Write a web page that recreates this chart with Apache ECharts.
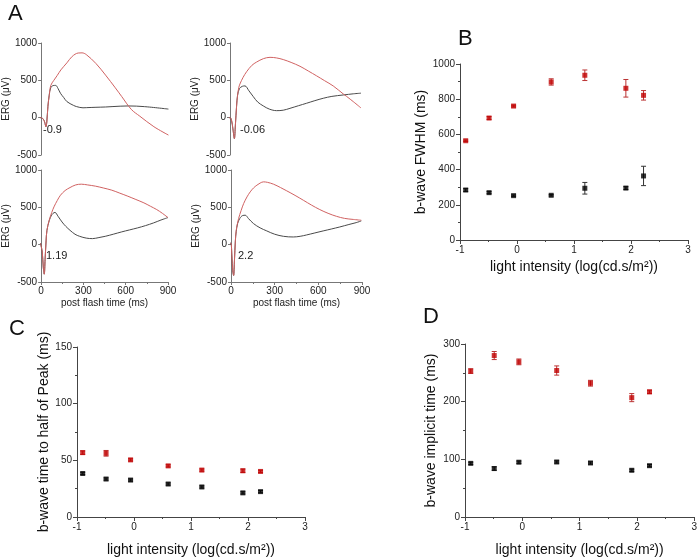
<!DOCTYPE html>
<html><head><meta charset="utf-8">
<script src="https://cdn.jsdelivr.net/npm/echarts@6/dist/echarts.min.js"></script>
<style>html,body{margin:0;padding:0;background:#fff}#c{width:700px;height:558px}</style>
</head><body><div id="c"></div>
<script>
// ---------- Panel A: ERG waveforms [time ms, µV] ----------
const erg1Red = [[-8,0],[0,0],[15,-20],[25,-60],[34,-121],[40,-60],[48,150],[57,290],[68,430],[90,500],[114,565],[140,640],[183,735],[220,820],[263,866],[290,868],[320,845],[389,725],[457,570],[526,400],[572,282],[640,110],[700,20],[800,-121],[903,-233]];
const erg1Black = [[-8,0],[0,0],[15,-20],[25,-60],[34,-121],[40,-60],[48,150],[57,300],[68,400],[85,430],[103,432],[120,390],[137,327],[160,270],[183,215],[229,165],[252,148],[297,132],[320,134],[389,139],[457,143],[503,148],[618,157],[732,148],[903,115]];
const erg2Red = [[-8,0],[0,0],[10,-30],[20,-150],[30,-280],[37,-100],[45,150],[52,300],[60,400],[68,450],[90,540],[114,615],[150,700],[183,745],[229,790],[275,808],[320,800],[366,778],[420,740],[481,688],[538,625],[595,560],[650,495],[709,425],[778,318],[801,285],[850,210],[900,130]];
const erg2Black = [[-8,0],[0,0],[10,-30],[20,-150],[30,-280],[37,-100],[45,150],[52,300],[65,390],[85,420],[103,425],[130,360],[160,282],[190,210],[229,157],[270,115],[320,94],[366,100],[412,125],[470,160],[526,193],[583,228],[641,260],[700,285],[778,304],[850,320],[900,328]];
const erg3Red = [[-5,20],[0,20],[8,-100],[15,-300],[22,-395],[28,-200],[35,50],[41,190],[57,327],[75,430],[91,506],[114,590],[137,662],[170,725],[205,765],[245,800],[285,810],[330,800],[387,783],[444,758],[501,730],[558,690],[615,649],[672,605],[729,560],[775,515],[820,470],[860,420],[900,363]];
const erg3Black = [[-5,20],[0,20],[8,-100],[15,-300],[22,-395],[28,-200],[35,50],[41,190],[57,320],[75,400],[91,428],[98,432],[120,380],[148,304],[175,245],[205,192],[240,140],[273,112],[320,88],[364,81],[410,95],[455,112],[512,140],[569,170],[626,197],[683,224],[740,255],[797,291],[850,330],[900,363]];
const erg4Red = [[-5,20],[0,20],[6,-150],[12,-350],[18,-412],[24,-200],[30,50],[36,192],[52,349],[70,460],[87,551],[110,640],[132,707],[155,760],[178,797],[200,825],[223,841],[250,835],[292,810],[340,765],[383,721],[440,660],[497,595],[553,530],[610,470],[667,420],[724,380],[780,352],[840,338],[895,327]];
const erg4Black = [[-5,20],[0,20],[6,-150],[12,-350],[18,-412],[24,-200],[30,50],[36,180],[45,280],[60,350],[80,390],[98,394],[120,350],[155,282],[200,225],[246,184],[300,140],[360,112],[428,103],[475,112],[519,130],[576,157],[633,184],[690,210],[747,237],[810,270],[860,295],[895,318]];
const ergLabels = ['-0.9', '-0.06', '1.19', '2.2'];

// ---------- Panels B, C, D ----------
const intensity = [-0.9, -0.49, -0.06, 0.6, 1.19, 1.91, 2.22];
const fwhmRed = [564, 693, 761, 898, 936, 862, 822];
const fwhmRedErr = [4, 8, 5, 18, 30, 50, 27];
const fwhmBlack = [284, 269, 252, 254, 294, 295, 364];
const fwhmBlackErr = [8, 6, 4, 4, 33, 8, 55];
const halfRed = [56.8, 56.2, 50.4, 45.1, 41.4, 40.8, 40.2];
const halfRedErr = [1.5, 2.5, 1, 1, 1, 1.5, 1];
const halfBlack = [38.4, 33.5, 32.6, 29.1, 26.5, 21.3, 22.4];
const halfBlackErr = [1, 1, 1, 1, 1, 1, 1];
const implRed = [253, 280, 269, 254, 232, 207, 217];
const implRedErr = [4, 7, 5, 8, 5, 7, 3];
const implBlack = [93, 84, 95, 95.4, 93.7, 81, 89];
const implBlackErr = [2, 3, 2, 2, 2, 2, 2];

const FONT = '"Liberation Sans", Arial, sans-serif';
const RED_LINE = '#d06262', BLACK_LINE = '#4a4a4a';
const RED_PT = '#c00000', BLACK_PT = '#000000';
const plain = v => String(v);

const chart = echarts.init(document.getElementById('c'), null, {renderer: 'canvas'});

const grids = [
  {left: 37, top: 43, width: 131, height: 112},
  {left: 230, top: 43, width: 131, height: 112},
  {left: 37, top: 170, width: 131, height: 112},
  {left: 231, top: 170, width: 131, height: 112},
  {left: 460, top: 64, width: 228, height: 176},
  {left: 77, top: 347, width: 228, height: 171},
  {left: 465, top: 344, width: 232, height: 174}
];

function ergX(i, showAxis) {
  return {
    gridIndex: i, type: 'value', min: 0, max: 900, interval: 300,
    show: showAxis,
    axisLine: {show: true, onZero: false, lineStyle: {color: '#777'}},
    axisTick: {show: true, length: 3, lineStyle: {color: '#777'}},
    minorTick: {show: true, splitNumber: 2, length: 2, lineStyle: {color: '#777'}},
    axisLabel: {fontSize: 10, color: '#222', margin: 4, fontFamily: FONT, formatter: plain},
    splitLine: {show: false},
    name: 'post flash time (ms)', nameLocation: 'middle', nameGap: 16,
    nameTextStyle: {fontSize: 10, color: '#222', fontFamily: FONT}
  };
}
function ergY(i, gap) {
  return {
    gridIndex: i, type: 'value', min: -500, max: 1000, interval: 500,
    axisLine: {show: true, onZero: false, lineStyle: {color: '#777'}},
    axisTick: {show: true, length: 3, lineStyle: {color: '#777'}},
    axisLabel: {fontSize: 10, color: '#222', margin: 4, fontFamily: FONT, formatter: plain},
    splitLine: {show: false},
    name: 'ERG (μV)', nameLocation: 'middle', nameGap: gap, nameRotate: 90,
    nameTextStyle: {fontSize: 10, color: '#222', fontFamily: FONT}
  };
}
function sX(i, gap) {
  return {
    gridIndex: i, type: 'value', min: -1, max: 3, interval: 1,
    axisLine: {show: true, onZero: false, lineStyle: {color: '#444'}},
    axisTick: {show: true, length: 4, lineStyle: {color: '#444'}},
    minorTick: {show: true, splitNumber: 2, length: 2, lineStyle: {color: '#444'}},
    axisLabel: {fontSize: 10, color: '#222', margin: 5, fontFamily: FONT, formatter: plain},
    splitLine: {show: false},
    name: 'light intensity (log(cd.s/m²))', nameLocation: 'middle', nameGap: gap,
    nameTextStyle: {fontSize: 14, color: '#111', fontFamily: FONT}
  };
}
function sY(i, max, interval, name, gap) {
  return {
    gridIndex: i, type: 'value', min: 0, max: max, interval: interval,
    axisLine: {show: true, onZero: false, lineStyle: {color: '#444'}},
    axisTick: {show: true, length: 4, lineStyle: {color: '#444'}},
    minorTick: {show: true, splitNumber: 2, length: 2, lineStyle: {color: '#444'}},
    axisLabel: {fontSize: 10, color: '#222', margin: 5, fontFamily: FONT, formatter: plain},
    splitLine: {show: false},
    name: name, nameLocation: 'middle', nameGap: gap, nameRotate: 90,
    nameTextStyle: {fontSize: 14, color: '#111', fontFamily: FONT}
  };
}

const xAxes = [ergX(0, false), ergX(1, false), ergX(2, true), ergX(3, true), sX(4, 20), sX(5, 26), sX(6, 26)];
const yAxes = [ergY(0, 26), ergY(1, 22), ergY(2, 26), ergY(3, 22),
  sY(4, 1000, 200, 'b-wave FWHM (ms)', 32),
  sY(5, 150, 50, 'b-wave time to half of Peak (ms)', 26),
  sY(6, 300, 100, 'b-wave implicit time (ms)', 27)];

function lineSeries(idx, data, color) {
  return {type: 'line', xAxisIndex: idx, yAxisIndex: idx, data: data, showSymbol: false,
    smooth: 0.35, lineStyle: {color: color, width: 1}, silent: true, z: color === RED_LINE ? 3 : 2};
}
function pointSeries(idx, ys, color) {
  return {type: 'scatter', xAxisIndex: idx, yAxisIndex: idx, symbol: 'rect', symbolSize: 5,
    data: intensity.map((x, k) => [x, ys[k]]), itemStyle: {color: color}, z: 4};
}
function errSeries(idx, ys, errs, color) {
  return {type: 'custom', xAxisIndex: idx, yAxisIndex: idx, z: 3,
    data: intensity.map((x, k) => [x, ys[k] - errs[k], ys[k] + errs[k]]),
    renderItem: function (params, api) {
      const p1 = api.coord([api.value(0), api.value(1)]);
      const p2 = api.coord([api.value(0), api.value(2)]);
      const w = 2.5;
      const st = {stroke: color, lineWidth: 1};
      return {type: 'group', children: [
        {type: 'line', shape: {x1: p1[0], y1: p1[1], x2: p2[0], y2: p2[1]}, style: st},
        {type: 'line', shape: {x1: p1[0] - w, y1: p1[1], x2: p1[0] + w, y2: p1[1]}, style: st},
        {type: 'line', shape: {x1: p2[0] - w, y1: p2[1], x2: p2[0] + w, y2: p2[1]}, style: st}
      ]};
    }
  };
}

const series = [
  lineSeries(0, erg1Black, BLACK_LINE), lineSeries(0, erg1Red, RED_LINE),
  lineSeries(1, erg2Black, BLACK_LINE), lineSeries(1, erg2Red, RED_LINE),
  lineSeries(2, erg3Black, BLACK_LINE), lineSeries(2, erg3Red, RED_LINE),
  lineSeries(3, erg4Black, BLACK_LINE), lineSeries(3, erg4Red, RED_LINE),
  errSeries(4, fwhmRed, fwhmRedErr, '#b33'), pointSeries(4, fwhmRed, RED_PT),
  errSeries(4, fwhmBlack, fwhmBlackErr, '#333'), pointSeries(4, fwhmBlack, BLACK_PT),
  errSeries(5, halfRed, halfRedErr, '#b33'), pointSeries(5, halfRed, RED_PT),
  errSeries(5, halfBlack, halfBlackErr, '#333'), pointSeries(5, halfBlack, BLACK_PT),
  errSeries(6, implRed, implRedErr, '#b33'), pointSeries(6, implRed, RED_PT),
  errSeries(6, implBlack, implBlackErr, '#333'), pointSeries(6, implBlack, BLACK_PT)
];

const lblPos = [[43, 124], [240, 124], [46, 250], [238, 250]];
const letters = [['A', 8, 3], ['B', 458, 28], ['C', 9, 318], ['D', 423, 306]];
const graphic = [];
ergLabels.forEach((t, i) => graphic.push({type: 'text', left: lblPos[i][0], top: lblPos[i][1],
  style: {text: t, fontSize: 11, fill: '#222', fontFamily: FONT}}));
letters.forEach(l => graphic.push({type: 'text', left: l[1], top: l[2],
  style: {text: l[0], fontSize: 22, fill: '#111', fontFamily: FONT}}));

chart.setOption({
  animation: false,
  backgroundColor: '#fff',
  grid: grids,
  xAxis: xAxes,
  yAxis: yAxes,
  series: series,
  graphic: graphic
});
</script></body></html>
